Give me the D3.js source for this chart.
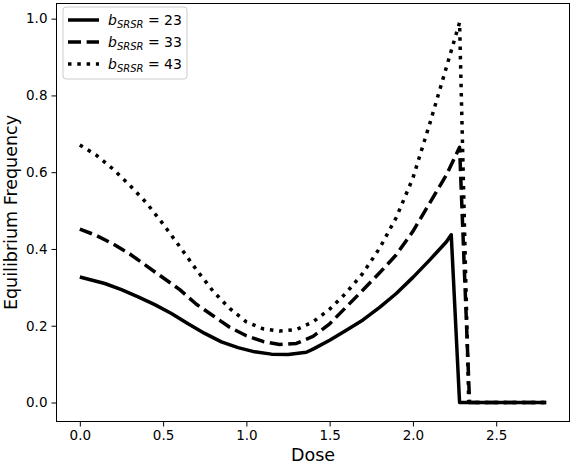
<!DOCTYPE html>
<html>
<head>
<meta charset="utf-8">
<script src="https://cdn.jsdelivr.net/npm/d3@7"></script>
<style>
  body { margin: 0; background: #fff; }
  text { font-family: "DejaVu Sans", sans-serif; fill: #000; }
</style>
</head>
<body>
<div id="chart"></div>
<script>
var svgWidth = 571;
var svgHeight = 465;

var margin = { top: 3.5, right: 1.5, bottom: 43.5, left: 56.5 };
var chartWidth = svgWidth - margin.left - margin.right;
var chartHeight = svgHeight - margin.top - margin.bottom;

// series values
var dose23 = [0, 0.15, 0.25, 0.35, 0.45, 0.55, 0.65, 0.75, 0.85, 0.95, 1.05, 1.15, 1.25, 1.36, 1.4, 1.5, 1.6, 1.7, 1.8, 1.9, 2.0, 2.1, 2.2, 2.23, 2.28, 2.8];
var freq23 = [0.327, 0.310, 0.294, 0.275, 0.255, 0.232, 0.205, 0.180, 0.158, 0.143, 0.132, 0.126, 0.125, 0.131, 0.139, 0.162, 0.188, 0.215, 0.248, 0.284, 0.326, 0.371, 0.418, 0.437, 0, 0];

var dose33 = [0, 0.1, 0.2, 0.3, 0.4, 0.5, 0.6, 0.7, 0.8, 0.9, 1.0, 1.1, 1.2, 1.3, 1.4, 1.5, 1.6, 1.7, 1.8, 1.9, 2.0, 2.1, 2.2, 2.28, 2.34, 2.8];
var freq33 = [0.452, 0.435, 0.413, 0.387, 0.356, 0.325, 0.294, 0.256, 0.226, 0.196, 0.174, 0.159, 0.151, 0.154, 0.172, 0.205, 0.249, 0.293, 0.338, 0.385, 0.446, 0.519, 0.592, 0.665, 0, 0];

var dose43 = [0, 0.1, 0.2, 0.3, 0.4, 0.5, 0.6, 0.7, 0.8, 0.9, 1.0, 1.1, 1.2, 1.3, 1.4, 1.5, 1.6, 1.7, 1.8, 1.9, 2.0, 2.1, 2.2, 2.28, 2.335, 2.8];
var freq43 = [0.671, 0.644, 0.608, 0.566, 0.520, 0.465, 0.406, 0.346, 0.290, 0.245, 0.210, 0.192, 0.186, 0.190, 0.210, 0.243, 0.286, 0.337, 0.402, 0.482, 0.585, 0.725, 0.872, 0.990, 0, 0];

var seriesNames = ["23", "33", "43"];
var xTicks = [0, 0.5, 1.0, 1.5, 2.0, 2.5];
var yTicks = [0, 0.2, 0.4, 0.6, 0.8, 1.0];

var series = [
  { name: seriesNames[0], dose: dose23, freq: freq23, dash: null },
  { name: seriesNames[1], dose: dose33, freq: freq33, dash: "13,5.6" },
  { name: seriesNames[2], dose: dose43, freq: freq43, dash: "3.5,5.8" }
];

var svg = d3.select("#chart")
  .append("svg")
  .attr("width", svgWidth)
  .attr("height", svgHeight);

var chartGroup = svg.append("g")
  .attr("transform", `translate(${margin.left}, ${margin.top})`);

// matplotlib style 5% margins
var xScale = d3.scaleLinear()
  .domain([-0.14, 2.94])
  .range([0, chartWidth]);

var yScale = d3.scaleLinear()
  .domain([-0.0495, 1.0395])
  .range([chartHeight, 0]);

var bottomAxis = d3.axisBottom(xScale).tickValues(xTicks).tickFormat(d3.format(".1f")).tickSizeOuter(0).tickSize(5).tickPadding(4);
var leftAxis = d3.axisLeft(yScale).tickValues(yTicks).tickFormat(d3.format(".1f")).tickSizeOuter(0).tickSize(5).tickPadding(4);

var xAxisG = chartGroup.append("g")
  .attr("transform", `translate(0, ${chartHeight})`)
  .call(bottomAxis);
var yAxisG = chartGroup.append("g")
  .call(leftAxis);

[xAxisG, yAxisG].forEach(function(g) {
  g.select(".domain").remove();
  g.selectAll("line").attr("stroke", "#000").attr("stroke-width", 1);
  g.selectAll("text").style("font-size", "13.5px").style("font-family", "DejaVu Sans");
});

var line = d3.line()
  .x(d => xScale(d[0]))
  .y(d => yScale(d[1]));

series.forEach(function(s) {
  chartGroup.append("path")
    .datum(s.dose.map((d, i) => [d, s.freq[i]]))
    .attr("fill", "none")
    .attr("stroke", "#000")
    .attr("stroke-width", 3.5)
    .attr("stroke-linejoin", "round")
    .attr("stroke-dasharray", s.dash)
    .attr("d", line);
});

// frame
chartGroup.append("rect")
  .attr("width", chartWidth)
  .attr("height", chartHeight)
  .attr("fill", "none")
  .attr("stroke", "#000")
  .attr("stroke-width", 1);

// axis labels
svg.append("text")
  .attr("x", margin.left + chartWidth / 2)
  .attr("y", 461)
  .attr("text-anchor", "middle")
  .style("font-size", "17.5px")
  .text("Dose");

svg.append("text")
  .attr("transform", `translate(17, ${margin.top + chartHeight / 2}) rotate(-90)`)
  .attr("text-anchor", "middle")
  .style("font-size", "17.5px")
  .text("Equilibrium Frequency");

// legend
var legend = svg.append("g").attr("transform", "translate(63, 7)");
legend.append("rect")
  .attr("width", 124)
  .attr("height", 72)
  .attr("rx", 3)
  .attr("fill", "#fff")
  .attr("fill-opacity", 0.8)
  .attr("stroke", "#ccc")
  .attr("stroke-width", 1);

series.forEach(function(s, i) {
  var y = 13 + i * 22;
  legend.append("line")
    .attr("x1", 5).attr("x2", 36)
    .attr("y1", y).attr("y2", y)
    .attr("stroke", "#000")
    .attr("stroke-width", 3.5)
    .attr("stroke-dasharray", s.dash);
  var t = legend.append("text")
    .attr("x", 45)
    .attr("y", y + 5)
    .style("font-size", "14px");
  t.append("tspan").style("font-style", "italic").text("b");
  t.append("tspan").style("font-style", "italic").style("font-size", "10px").attr("dy", 3).text("SRSR");
  t.append("tspan").attr("dy", -3).text(" = " + s.name);
});
</script>
</body>
</html>
